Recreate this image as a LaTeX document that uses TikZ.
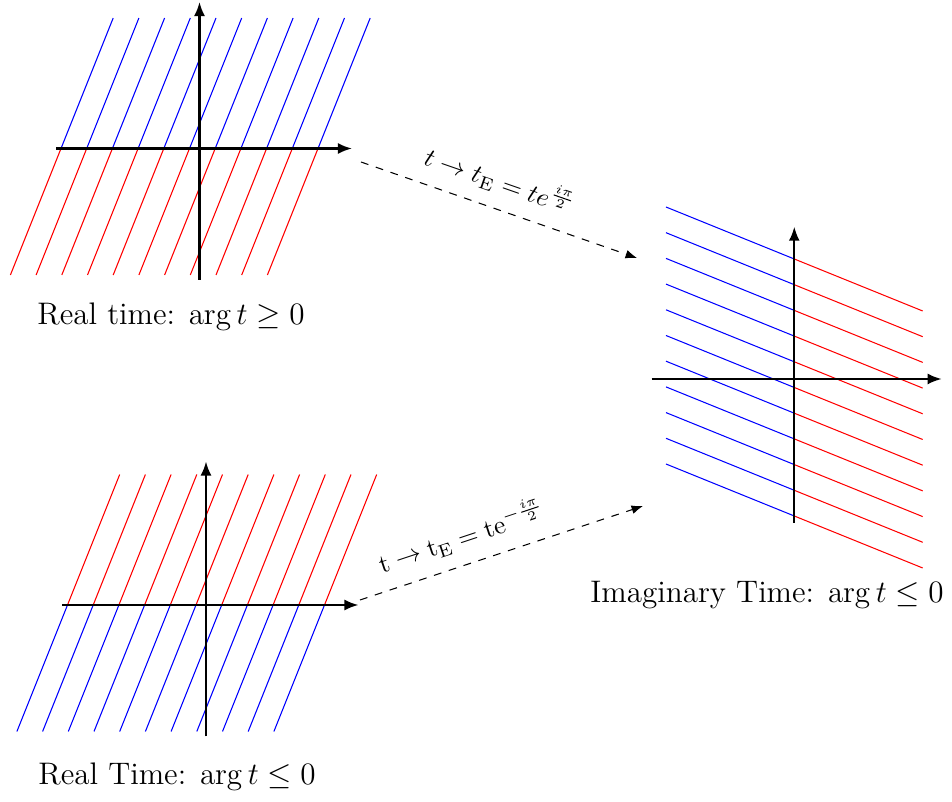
\documentclass[tikz,border=0pt]{standalone}
\usetikzlibrary{arrows.meta}
\begin{document}
\begin{tikzpicture}[x=0.385pt,y=-0.385pt,
  axis/.style={line width=0.8pt,-{Latex[length=5.4pt,width=4.2pt]}},
  bluel/.style={blue,line width=0.4pt},
  redl/.style={red,line width=0.4pt},
  maparrow/.style={dashed,line width=0.4pt,-{Latex[length=4.4pt,width=3.4pt]}},
  caption/.style={anchor=base,font=\large,inner sep=0pt},
  maplabel/.style={font=\normalsize,sloped,above=2pt}]
\useasboundingbox (0,0) rectangle (952,802);

% top-left panel
\foreach \k in {0,...,10}{
  \pgfmathsetmacro\xa{61+25.7*\k}
  \draw[bluel] (\xa,148.5) -- ++(52.2,-130.5);
  \draw[redl] (\xa,148.5) -- ++(-50.6,126.5);
}
\coordinate (tlxs) at (56,148.5);
\coordinate (tlxe) at (352,148.5);
\coordinate (tlys) at (199.5,280);
\coordinate (tlye) at (199.5,2);
\draw[axis] (tlxs) -- (tlxe);
\draw[axis] (tlys) -- (tlye);
\node[caption] (cap1) at (171,325) {Real time: $\arg t \geq 0$};

% bottom-left panel
\foreach \k in {0,...,10}{
  \pgfmathsetmacro\xa{67.5+25.7*\k}
  \draw[redl] (\xa,605) -- ++(52.2,-130.5);
  \draw[bluel] (\xa,605) -- ++(-50.6,126.5);
}
\coordinate (blxs) at (62.5,605);
\coordinate (blxe) at (358.5,605);
\coordinate (blys) at (206,736.5);
\coordinate (blye) at (206,461.5);
\draw[axis] (blxs) -- (blxe);
\draw[axis] (blys) -- (blye);
\node[caption] (cap2) at (177,785) {Real Time: $\arg t \leq 0$};

% right panel
\foreach \k in {0,...,10}{
  \pgfmathsetmacro\ya{259+25.7*\k}
  \draw[bluel] (794.3,\ya) -- ++(-128.3,-52);
  \draw[redl] (794.3,\ya) -- ++(128.4,52);
}
\coordinate (rxs) at (651.7,379);
\coordinate (rxe) at (941.7,379);
\coordinate (rys) at (794.3,522.7);
\coordinate (rye) at (794.3,226.7);
\draw[axis] (rxs) -- (rxe);
\draw[axis] (rys) -- (rye);
\node[caption] (cap3) at (767,603) {Imaginary Time: $\arg t \leq 0$};

% maps
\coordinate (m1s) at (361,162);
\coordinate (m1e) at (637,258);
\draw[maparrow] (m1s) -- node[maplabel,pos=0.47] (lab1) {$t \rightarrow t_{\mathrm{E}} = t e^{\frac{i\pi}{2}}$} (m1e);
\coordinate (m2s) at (360,600);
\coordinate (m2e) at (643,506);
\draw[maparrow] (m2s) -- node[maplabel,pos=0.39] (lab2) {$\mathrm{t} \rightarrow \mathrm{t}_{\mathrm{E}} = \mathrm{te}^{-\frac{i\pi}{2}}$} (m2e);
\end{tikzpicture}
\end{document}
